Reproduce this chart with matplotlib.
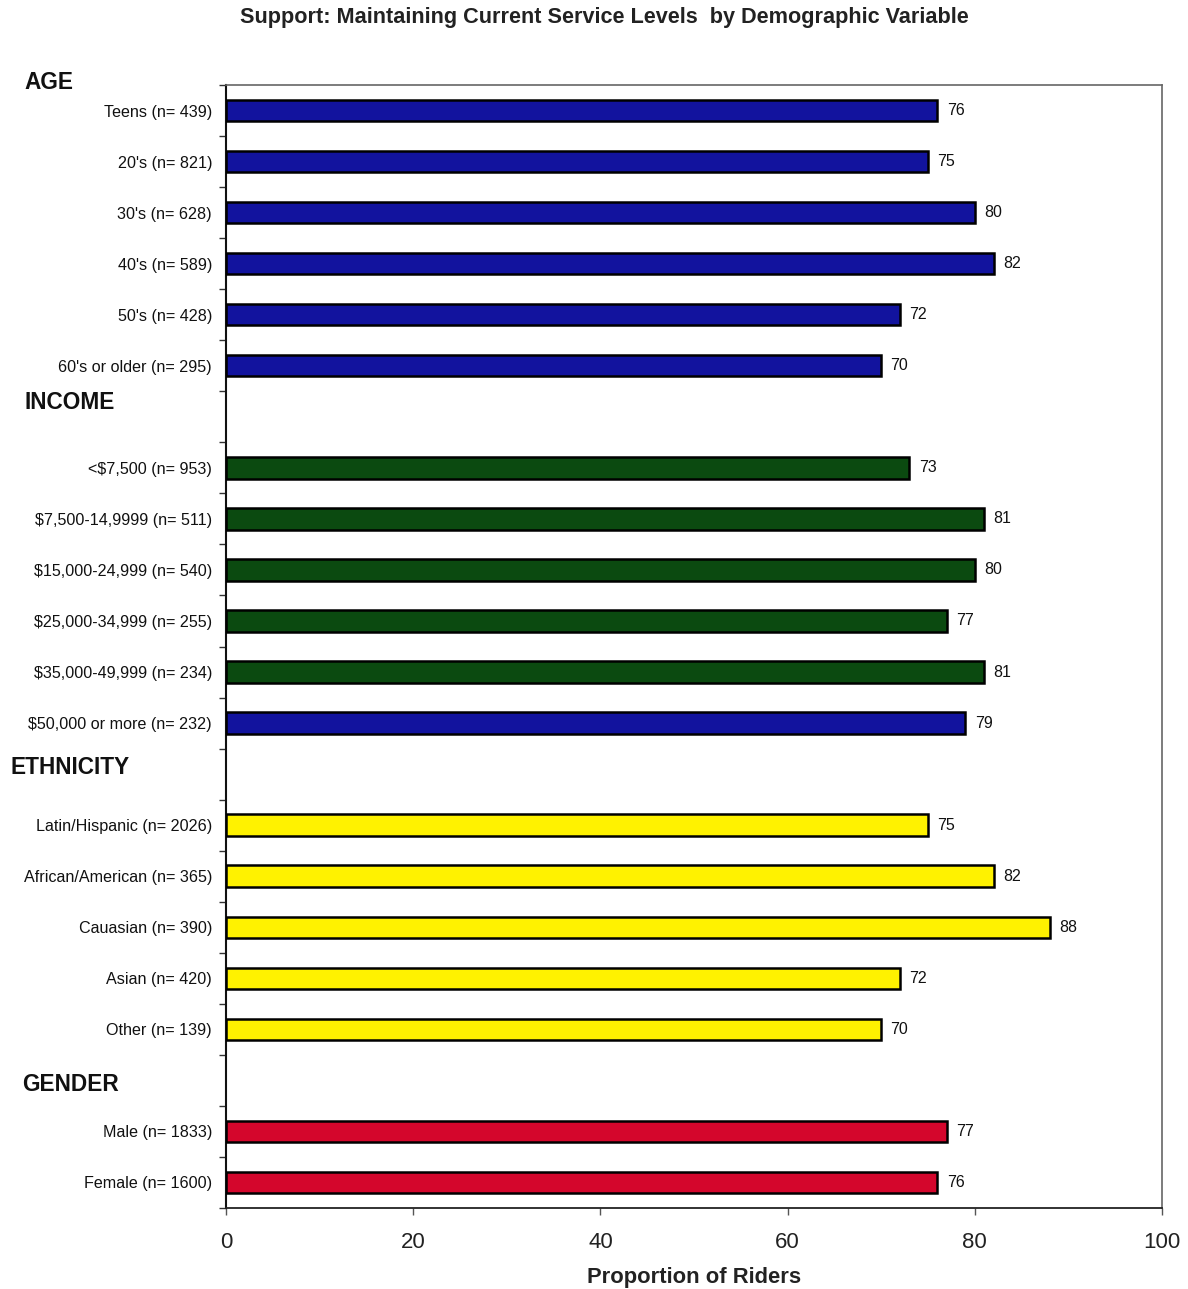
import matplotlib
matplotlib.use("Agg")
import matplotlib.pyplot as plt
from matplotlib.ticker import FixedLocator
import matplotlib.transforms as mtransforms

plt.rcParams['font.family'] = ['Liberation Sans', 'DejaVu Sans']

# Categories, values and bar colours per demographic group
age_labels = ["Teens (n= 439)", "20's (n= 821)", "30's (n= 628)", "40's (n= 589)",
              "50's (n= 428)", "60's or older (n= 295)"]
age_values = [76, 75, 80, 82, 72, 70]

income_labels = ["<$7,500 (n= 953)", "$7,500-14,9999 (n= 511)", "$15,000-24,999 (n= 540)",
                 "$25,000-34,999 (n= 255)", "$35,000-49,999 (n= 234)", "$50,000 or more (n= 232)"]
income_values = [73, 81, 80, 77, 81, 79]

ethnicity_labels = ["Latin/Hispanic (n= 2026)", "African/American (n= 365)", "Cauasian (n= 390)",
                    "Asian (n= 420)", "Other (n= 139)"]
ethnicity_values = [75, 82, 88, 72, 70]

gender_labels = ["Male (n= 1833)", "Female (n= 1600)"]
gender_values = [77, 76]

group_names = ["AGE", "INCOME", "ETHNICITY", "GENDER"]

BLUE = "#12139e"
GREEN = "#0b4a10"
YELLOW = "#fff200"
RED = "#d4062c"

age_colors = [BLUE] * 6
income_colors = [GREEN] * 5 + [BLUE]
ethnicity_colors = [YELLOW] * 5
gender_colors = [RED] * 2

groups = [
    (age_labels, age_values, age_colors),
    (income_labels, income_values, income_colors),
    (ethnicity_labels, ethnicity_values, ethnicity_colors),
    (gender_labels, gender_values, gender_colors),
]

# Lay out rows with one empty slot between groups
positions, labels, values, colors, header_slots = [], [], [], [], []
slot = 0
for gi, (lab, val, col) in enumerate(groups):
    if gi > 0:
        header_slots.append(slot)
        slot += 1
    for l, v, c in zip(lab, val, col):
        positions.append(slot)
        labels.append(l)
        values.append(v)
        colors.append(c)
        slot += 1
n_slots = slot

fig = plt.figure(figsize=(11.88, 12.89), dpi=100)
ax = fig.add_axes([226 / 1188, 1 - 1208 / 1289, (1162 - 226) / 1188, (1208 - 85) / 1289])

ax.barh(positions, values, height=0.42, color=colors, edgecolor="black", linewidth=1.8, zorder=3)

for p, v in zip(positions, values):
    ax.text(v + 1.0, p, f"{v}", va="center", ha="left", fontsize=11.5, color="#111111")

ax.set_xlim(0, 100)
ax.set_ylim(n_slots - 0.5, -0.5)

ax.set_yticks(positions)
ax.set_yticklabels(labels, fontsize=11.6, color="#111111")
ax.yaxis.set_minor_locator(FixedLocator([i - 0.5 for i in range(n_slots + 1)]))
ax.tick_params(axis="y", which="major", length=0, pad=10)
ax.tick_params(axis="y", which="minor", length=5, width=1, color="#333333")

ax.set_xticks([0, 20, 40, 60, 80, 100])
ax.tick_params(axis="x", which="major", length=5, width=1, labelsize=16, pad=12, labelcolor="#222222",
               color="#555555")
ax.set_xlabel("Proportion of Riders", fontsize=15.8, fontweight="bold", labelpad=10, color="#222222")

ax.spines["left"].set_color("#111111")
ax.spines["left"].set_linewidth(1.5)
ax.spines["bottom"].set_color("#222222")
ax.spines["bottom"].set_linewidth(1.3)
for s in ["top", "right"]:
    ax.spines[s].set_color("#666666")
    ax.spines[s].set_linewidth(1.2)

# Group headers to the left of the axis
trans = mtransforms.blended_transform_factory(fig.transFigure, ax.transData)
header_y = [-0.55, header_slots[0] - 0.28, header_slots[1] - 0.13, header_slots[2] + 0.08]
header_x = [24, 24, 10, 22]
for name, y, x in zip(group_names, header_y, header_x):
    ax.text(x / 1188, y, name, transform=trans, fontsize=16.3, fontweight="bold",
            ha="left", va="center", color="#111111", clip_on=False)

fig.text(604 / 1188, 1 - 18 / 1289, "Support: Maintaining Current Service Levels  by Demographic Variable",
         ha="center", va="center", fontsize=15.6, fontweight="bold", color="#222222")

fig.savefig("out.png", dpi=100, facecolor="white")
